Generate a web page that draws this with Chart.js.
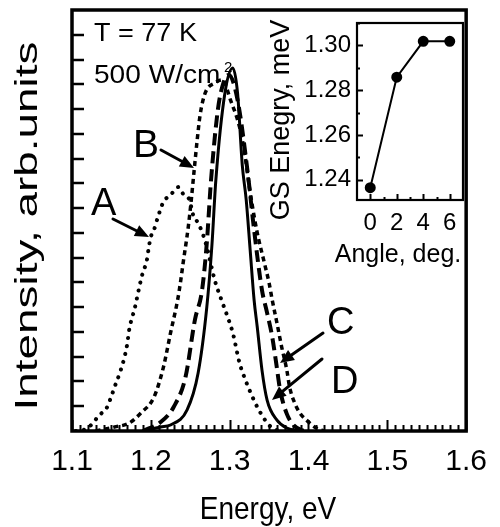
<!DOCTYPE html>
<html><head><meta charset="utf-8">
<script src="https://cdn.jsdelivr.net/npm/chart.js@4.4.0/dist/chart.umd.min.js"></script>
<style>
html,body{margin:0;padding:0;background:#fff;}
#wrap{position:relative;width:500px;height:527px;overflow:hidden;}
#main{position:absolute;left:0;top:0;}
#inset{position:absolute;left:250px;top:0;}
</style></head><body>
<div id="wrap"><canvas id="main" width="500" height="527"></canvas><canvas id="inset" width="250" height="290"></canvas></div>
<script>
// ---- data ----
const energyTicks = [1.1, 1.2, 1.3, 1.4, 1.5, 1.6];
const energyA = [1.105,1.12,1.135,1.144,1.15,1.155,1.161,1.166,1.17,1.1725,1.18,1.184,1.189,1.195,1.1975,1.2,1.204,1.209,1.216,1.225,1.235,1.241,1.25,1.2525,1.259,1.265,1.271,1.281,1.291,1.2975,1.304,1.3125,1.32,1.329,1.335,1.345,1.354,1.365];
const intensityA = [0.0,0.012,0.065,0.093,0.141,0.186,0.238,0.291,0.35,0.408,0.501,0.561,0.63,0.691,0.743,0.784,0.812,0.864,0.925,0.953,0.985,0.957,0.925,0.884,0.844,0.804,0.743,0.61,0.517,0.46,0.396,0.275,0.206,0.137,0.097,0.044,0.012,0.0];
const energyB = [1.13,1.154,1.1725,1.1875,1.204,1.216,1.225,1.234,1.2375,1.241,1.2475,1.2513,1.255,1.2588,1.2625,1.269,1.281,1.291,1.301,1.3125,1.319,1.325,1.329,1.335,1.344,1.35,1.354,1.36,1.366,1.3725,1.376,1.3825,1.389,1.3975,1.41,1.42];
const intensityB = [0.0,0.016,0.032,0.073,0.137,0.258,0.396,0.529,0.598,0.679,0.824,0.933,1.054,1.175,1.276,1.365,1.405,1.418,1.337,1.228,1.123,0.985,0.905,0.80,0.679,0.598,0.529,0.436,0.339,0.246,0.178,0.113,0.073,0.044,0.012,0.0];
const energyC = [1.19,1.2125,1.229,1.244,1.256,1.265,1.271,1.2763,1.285,1.2925,1.299,1.31,1.3225,1.331,1.341,1.3475,1.354,1.359,1.364,1.3725,1.381,1.391,1.40];
const intensityC = [0.0,0.036,0.097,0.218,0.45,0.569,0.759,1.01,1.296,1.41,1.438,1.337,1.054,0.812,0.569,0.477,0.38,0.275,0.166,0.069,0.024,0.004,0.0];
const energyD = [1.19,1.2125,1.225,1.246,1.26,1.271,1.2775,1.2825,1.294,1.304,1.31,1.316,1.321,1.326,1.331,1.335,1.341,1.3475,1.36,1.3725,1.39];
const intensityD = [0.0,0.016,0.024,0.085,0.234,0.50,0.75,1.014,1.365,1.466,1.365,1.074,0.933,0.731,0.529,0.42,0.246,0.125,0.044,0.012,0.0];
const intensityTicks = [0.1,0.2,0.3,0.4,0.5,0.6,0.7,0.8,0.9,1.0,1.1,1.2,1.3,1.4,1.5,1.6];

const angles = [0, 2, 4, 6];
const gsEnergy = [1.2365, 1.2858, 1.3018, 1.3018];
const angleTicks = [0, 2, 4, 6];
const gsTicks = [1.24, 1.26, 1.28, 1.30];

const FONT = '"Liberation Sans", Arial, Helvetica, sans-serif';
function pts(xs, ys){ return xs.map((x,i)=>({x:x, y:ys[i]})); }
function txt(ctx, s, x, y, size, o){
  o = o || {};
  ctx.save();
  ctx.translate(x, y);
  if (o.rot) ctx.rotate(o.rot);
  ctx.scale(o.sx || 1, o.sy || 1);
  ctx.font = size + 'px ' + FONT;
  ctx.fillStyle = '#000';
  ctx.textAlign = o.align || 'left';
  ctx.textBaseline = 'alphabetic';
  ctx.fillText(s, 0, 0);
  ctx.restore();
}
function arrow(ctx, x1, y1, x2, y2){
  const a = Math.atan2(y2-y1, x2-x1), L = 14, W = 6;
  const bx = x2 - L*Math.cos(a), by = y2 - L*Math.sin(a);
  ctx.save();
  ctx.strokeStyle = '#000'; ctx.fillStyle = '#000'; ctx.lineWidth = 3; ctx.lineCap='round';
  ctx.beginPath(); ctx.moveTo(x1,y1); ctx.lineTo(bx,by); ctx.stroke();
  ctx.beginPath(); ctx.moveTo(x2,y2);
  ctx.lineTo(bx - W*Math.sin(a), by + W*Math.cos(a));
  ctx.lineTo(bx + W*Math.sin(a), by - W*Math.cos(a));
  ctx.closePath(); ctx.fill();
  ctx.restore();
}

const mainDeco = {
  id: 'mainDeco',
  afterDatasetsDraw(chart){
    const ctx = chart.ctx, a = chart.chartArea, xs = chart.scales.x, ys = chart.scales.y;
    ctx.save();
    ctx.strokeStyle = '#000';
    ctx.lineWidth = 2;
    ctx.beginPath();
    for (let i = 0; i <= 50; i++){
      const v = 1.1 + i*0.01;
      const px = Math.round(xs.getPixelForValue(v)) + 0.5;
      const len = (i % 10 === 0) ? 11 : 6;
      ctx.moveTo(px, a.bottom); ctx.lineTo(px, a.bottom - len);
    }
    ctx.stroke();
    ctx.lineWidth = 2.5;
    ctx.beginPath();
    intensityTicks.forEach(v=>{
      const py = Math.round(ys.getPixelForValue(v));
      ctx.moveTo(a.left, py); ctx.lineTo(a.left + 12, py);
    });
    ctx.stroke();
    ctx.lineWidth = 3.5;
    ctx.strokeRect(a.left, a.top, a.right - a.left, a.bottom - a.top);
    ctx.restore();
  },
  afterDraw(chart){
    const ctx = chart.ctx;
    txt(ctx, 'T = 77 K', 94, 41, 26, {sx:1.04});
    txt(ctx, '500 W/cm', 94, 83, 26, {sx:1.08});
    txt(ctx, '2', 224, 72, 15);
    txt(ctx, 'A', 91, 215, 38);
    txt(ctx, 'B', 133, 157, 39);
    txt(ctx, 'C', 327, 334, 38);
    txt(ctx, 'D', 331, 393, 38);
    arrow(ctx, 113, 219, 149, 237);
    arrow(ctx, 161, 150, 194, 168);
    arrow(ctx, 323, 333, 280, 363);
    arrow(ctx, 322, 359, 272, 400);
    txt(ctx, 'Energy, eV', 268, 519, 28, {align:'center', sy:1.15});
    txt(ctx, 'Intensity, arb.units', 37, 226, 31, {align:'center', rot:-Math.PI/2, sx:1.48});
  }
};

new Chart(document.getElementById('main'), {
  type: 'line',
  data: { datasets: [
    { label:'A', data: pts(energyA, intensityA), borderColor:'#000', borderWidth:4, borderDash:[0.1, 8], borderCapStyle:'round', pointRadius:0, cubicInterpolationMode:'monotone', fill:false },
    { label:'B', data: pts(energyB, intensityB), borderColor:'#000', borderWidth:3.5, borderDash:[5, 4], borderCapStyle:'butt', pointRadius:0, cubicInterpolationMode:'monotone', fill:false },
    { label:'C', data: pts(energyC, intensityC), borderColor:'#000', borderWidth:4, borderDash:[12, 6], borderCapStyle:'butt', pointRadius:0, cubicInterpolationMode:'monotone', fill:false },
    { label:'D', data: pts(energyD, intensityD), borderColor:'#000', borderWidth:3, pointRadius:0, cubicInterpolationMode:'monotone', fill:false }
  ]},
  options: {
    responsive:false, animation:false, devicePixelRatio:1,
    layout:{ padding:{ left:0, right:28, top:10, bottom:0 } },
    plugins:{ legend:{display:false}, tooltip:{enabled:false} },
    scales:{
      x:{ type:'linear', min:1.1, max:1.6,
          afterBuildTicks: s => { s.ticks = energyTicks.map(v => ({value:v})); },
          afterFit: s => { s.height = 96; },
          ticks:{ font:{family:FONT, size:30}, color:'#000', padding:13, maxRotation:0, autoSkip:false, callback: v => Number(v).toFixed(1) },
          grid:{ display:false, drawTicks:false }, border:{ display:false } },
      y:{ type:'linear', min:0, max:1.7,
          afterFit: s => { s.width = 72; },
          ticks:{ display:false }, grid:{ display:false, drawTicks:false }, border:{ display:false } }
    }
  },
  plugins:[mainDeco]
});

const insetDeco = {
  id:'insetDeco',
  afterDatasetsDraw(chart){
    const ctx = chart.ctx, a = chart.chartArea, xs = chart.scales.x, ys = chart.scales.y;
    ctx.save(); ctx.strokeStyle = '#000';
    ctx.lineWidth = 2;
    ctx.beginPath();
    for (let v = 0; v <= 6; v++){
      const px = Math.round(xs.getPixelForValue(v)) + 0.5;
      const len = (v % 2 === 0) ? 6 : 3;
      ctx.moveTo(px, a.bottom); ctx.lineTo(px, a.bottom - len);
    }
    for (let k = 0; k <= 7; k++){
      const v = 1.24 + k*0.01;
      const py = Math.round(ys.getPixelForValue(v)) + 0.5;
      const len = (k % 2 === 0) ? 6 : 3;
      ctx.moveTo(a.left, py); ctx.lineTo(a.left + len, py);
    }
    ctx.stroke();
    ctx.lineWidth = 2.2;
    ctx.strokeRect(a.left, a.top, a.right - a.left, a.bottom - a.top);
    ctx.restore();
  },
  afterDraw(chart){
    const ctx = chart.ctx;
    txt(ctx, 'Angle, deg.', 148, 262, 25, {align:'center'});
    txt(ctx, 'GS Enegry, meV', 39, 120, 27, {align:'center', rot:-Math.PI/2});
  }
};

new Chart(document.getElementById('inset'), {
  type:'line',
  data:{ datasets:[{ data: pts(angles, gsEnergy), borderColor:'#000', borderWidth:2, pointRadius:4.5, pointBackgroundColor:'#000', pointBorderColor:'#000', tension:0, fill:false }] },
  options:{
    responsive:false, animation:false, devicePixelRatio:1,
    layout:{ padding:{ left:0, right:37, top:23, bottom:0 } },
    plugins:{ legend:{display:false}, tooltip:{enabled:false} },
    scales:{
      x:{ type:'linear', min:-1, max:7,
          afterBuildTicks: s => { s.ticks = angleTicks.map(v => ({value:v})); },
          afterFit: s => { s.height = 90; },
          ticks:{ font:{family:FONT, size:24}, color:'#000', padding:9, maxRotation:0, autoSkip:false, callback: v => String(v) },
          grid:{ display:false, drawTicks:false }, border:{ display:false } },
      y:{ type:'linear', min:1.231, max:1.310,
          afterBuildTicks: s => { s.ticks = gsTicks.map(v => ({value:v})); },
          afterFit: s => { s.width = 107; },
          ticks:{ font:{family:FONT, size:24}, color:'#000', padding:6, autoSkip:false, callback: v => Number(v).toFixed(2) },
          grid:{ display:false, drawTicks:false }, border:{ display:false } }
    }
  },
  plugins:[insetDeco]
});
</script>
</body></html>
